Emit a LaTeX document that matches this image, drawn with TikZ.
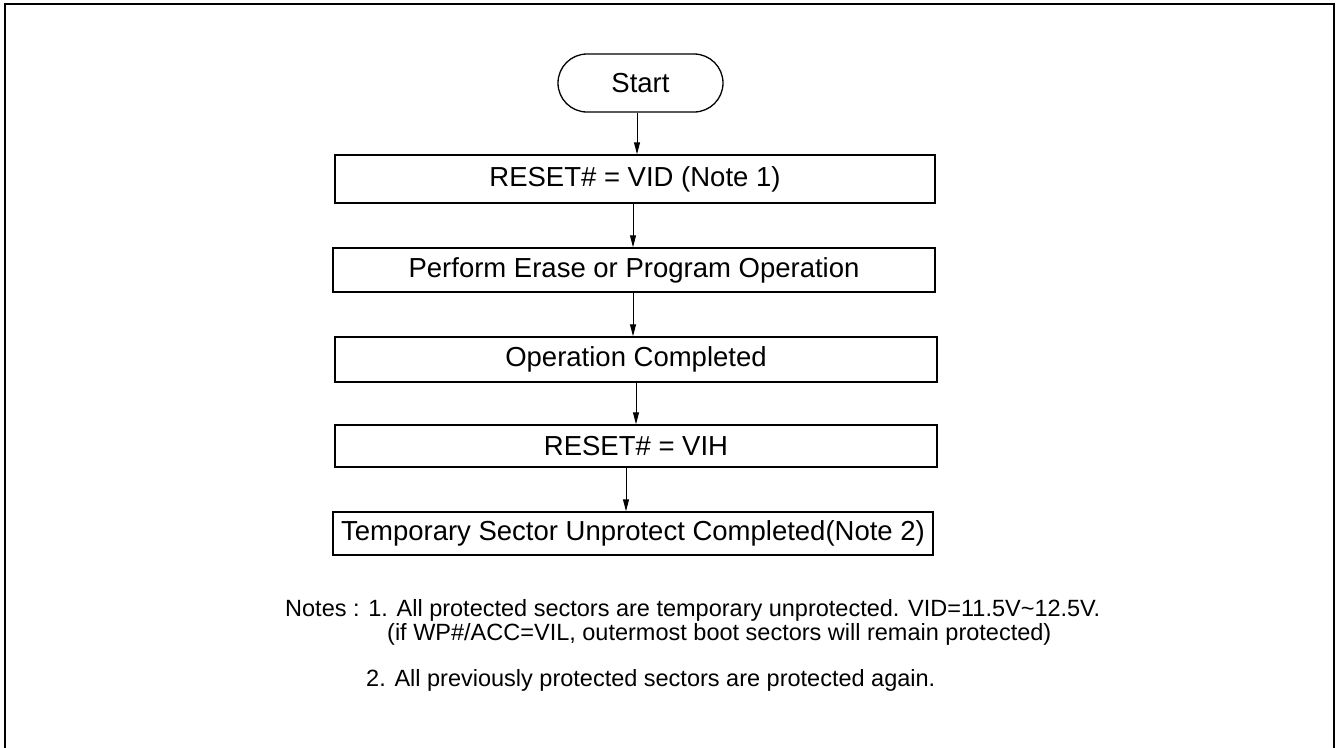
\documentclass[tikz,border=0pt]{standalone}
\usepackage{fontspec}
\setmainfont{Liberation Sans}
\usetikzlibrary{arrows.meta}
\newcommand{\boxfont}{\fontsize{27.5}{33}\selectfont}
\newcommand{\notefont}{\fontsize{23.5}{28}\selectfont}
\begin{document}
\begin{tikzpicture}[x=1pt,y=-1pt,
  stepbox/.style={draw, line width=1.5pt, inner sep=0pt, font=\boxfont, minimum width=600pt},
  startbox/.style={draw, line width=1.3pt, inner sep=0pt, font=\boxfont, rounded corners=29pt, minimum width=165pt, minimum height=58pt},
  arr/.style={line width=1pt, -{Triangle[length=12pt,width=6pt]}},
  note/.style={anchor=west, inner sep=0pt, font=\notefont}]
\useasboundingbox (0,0) rectangle (1340,747);
\draw[line width=2.2pt] (5,760) -- (5,4) -- (1334,4) -- (1334,760);

\node[startbox] (s) at (640.5,83) {Start};
\node[stepbox, minimum height=48pt] (b1) at (635,179) {RESET\# = VID (Note 1)};
\node[stepbox, minimum height=44pt, minimum width=602pt] (b2) at (634,270) {Perform Erase or Program Operation};
\node[stepbox, minimum height=45pt, minimum width=602pt] (b3) at (636,359.5) {Operation Completed};
\node[stepbox, minimum height=42pt, minimum width=602pt] (b4) at (636,446) {RESET\# = VIH};
\node[stepbox, minimum height=43pt] (b5) at (633,533.5) {Temporary Sector Unprotect Completed(Note 2)};

\draw[arr] (s.south -| 637,0) -- (b1.north -| 637,0);
\draw[arr] (b1.south -| 633,0) -- (b2.north -| 633,0);
\draw[arr] (b2.south -| 633,0) -- (b3.north -| 633,0);
\draw[arr] (b3.south -| 636,0) -- (b4.north -| 636,0);
\draw[arr] (b4.south -| 626,0) -- (b5.north -| 626,0);

\node[note] (n1) at (285,610) {Notes : 1. All protected sectors are temporary unprotected. VID=11.5V\textasciitilde 12.5V.};
\node[note] (n2) at (387,634) {(if WP\#/ACC=VIL, outermost boot sectors will remain protected)};
\node[note] (n3) at (366,680) {2. All previously protected sectors are protected again.};
\end{tikzpicture}
\end{document}
